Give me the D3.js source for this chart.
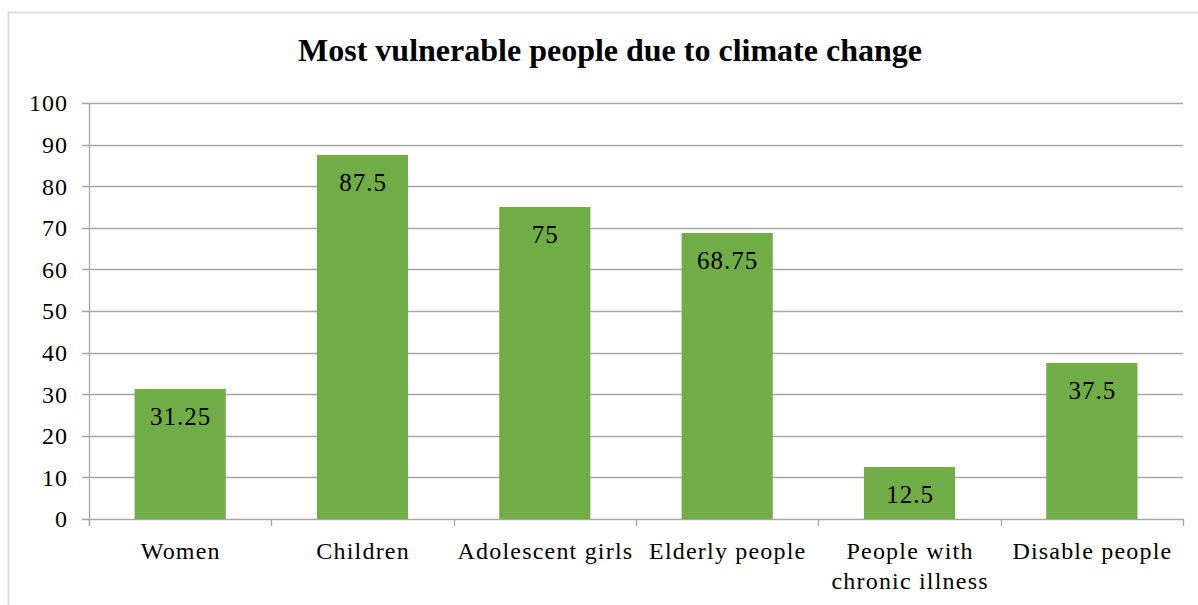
<!DOCTYPE html>
<html>
<head>
<meta charset="utf-8">
<script src="https://cdn.jsdelivr.net/npm/d3@7"></script>
<style>
  body { margin: 0; background: #fff; }
  svg { display: block; }
  svg text { font-family: "Liberation Serif", "DejaVu Serif", serif; fill: #000; }
</style>
</head>
<body>
<div id="chart"></div>
<script>
// bar chart: most vulnerable people due to climate change
const categories = ['Women', 'Children', 'Adolescent girls', 'Elderly people', 'People with|chronic illness', 'Disable people'];
const values = [31.25, 87.5, 75, 68.75, 12.5, 37.5];
const yTicks = [0, 10, 20, 30, 40, 50, 60, 70, 80, 90, 100];

const width = 1198, height = 605;
const margin = { left: 89, right: 15, top: 103, bottom: 86 };

const svg = d3.select('#chart').append('svg').attr('width', width).attr('height', height);

// outer chart frame (right and bottom edges run off the page)
svg.append('rect')
  .attr('x', 8.5).attr('y', 12.5)
  .attr('width', 1220).attr('height', 640)
  .attr('fill', '#fff').attr('stroke', '#d9dee6').attr('stroke-width', 2);

svg.append('text')
  .attr('x', 610).attr('y', 61)
  .attr('text-anchor', 'middle')
  .style('font-size', '32px').style('font-weight', 'bold')
  .text('Most vulnerable people due to climate change');

const x = d3.scaleBand().domain(categories).range([margin.left, width - margin.right]).paddingInner(0.5).paddingOuter(0.25);
const y = d3.scaleLinear().domain([0, 100]).range([height - margin.bottom, margin.top]);

// gridlines
svg.append('g')
  .selectAll('line')
  .data(yTicks)
  .enter().append('line')
  .attr('x1', margin.left - 7).attr('x2', width - margin.right)
  .attr('y1', d => Math.round(y(d)) + 0.5).attr('y2', d => Math.round(y(d)) + 0.5)
  .attr('stroke', '#a6a6a6').attr('stroke-width', 1.3);

// y axis line
svg.append('line')
  .attr('x1', margin.left + 0.5).attr('x2', margin.left + 0.5)
  .attr('y1', y(100)).attr('y2', y(0) + 7)
  .attr('stroke', '#a6a6a6').attr('stroke-width', 1.3);

svg.append('g')
  .selectAll('text')
  .data(yTicks)
  .enter().append('text')
  .attr('x', margin.left - 21)
  .attr('y', d => y(d))
  .attr('dy', '0.35em')
  .attr('text-anchor', 'end')
  .style('font-size', '24px')
  .style('letter-spacing', '1px')
  .text(d => d);

// category tick marks on x axis
const step = x.step();
const bounds = d3.range(categories.length + 1).map(i => margin.left + i * step);
svg.append('g')
  .selectAll('line')
  .data(bounds)
  .enter().append('line')
  .attr('x1', d => Math.round(d) + 0.5).attr('x2', d => Math.round(d) + 0.5)
  .attr('y1', y(0)).attr('y2', y(0) + 7)
  .attr('stroke', '#a6a6a6').attr('stroke-width', 1.3);

// bars
svg.append('g')
  .selectAll('rect')
  .data(values)
  .enter().append('rect')
  .attr('x', (d, i) => x(categories[i]))
  .attr('y', d => y(d))
  .attr('width', x.bandwidth())
  .attr('height', d => y(0) - y(d))
  .attr('fill', '#70ad47');

// value labels inside top of bars
svg.append('g')
  .selectAll('text')
  .data(values)
  .enter().append('text')
  .attr('x', (d, i) => x(categories[i]) + x.bandwidth() / 2 + 0.5)
  .attr('y', d => y(d) + 36)
  .attr('text-anchor', 'middle')
  .style('font-size', '25px')
  .style('letter-spacing', '1px')
  .text(d => d);

// category labels
const catLabels = svg.append('g')
  .selectAll('text')
  .data(categories)
  .enter().append('text')
  .attr('x', d => x(d) + x.bandwidth() / 2)
  .attr('y', 559)
  .attr('text-anchor', 'middle')
  .style('font-size', '24px')
  .style('letter-spacing', '1.2px');

catLabels.selectAll('tspan')
  .data(d => d.split('|').map(t => ({ t, cx: x(d) + x.bandwidth() / 2 + 0.6 })))
  .enter().append('tspan')
  .attr('x', d => d.cx)
  .attr('dy', (d, i) => i === 0 ? 0 : 30)
  .text(d => d.t);
</script>
</body>
</html>
